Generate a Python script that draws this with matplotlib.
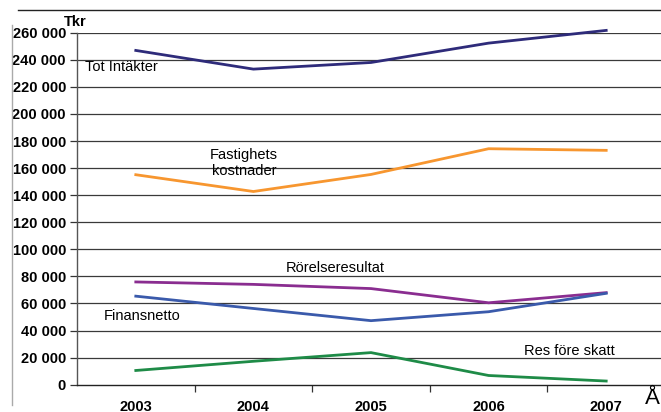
import matplotlib
matplotlib.use("Agg")
import matplotlib.pyplot as plt
from matplotlib.lines import Line2D

plt.rcParams['font.family'] = ['Liberation Sans', 'DejaVu Sans']

years = ["2003", "2004", "2005", "2006", "2007"]
tot_intakter = [246900, 233100, 238000, 252300, 261700]
fastighets_kostnader = [155100, 142700, 155300, 174300, 173100]
rorelseresultat = [75900, 74100, 71000, 60500, 68000]
finansnetto = [65400, 56300, 47300, 53900, 67500]
res_fore_skatt = [10500, 17300, 23700, 6800, 2700]

series = [
    (tot_intakter, "#2E2B7A"),
    (fastighets_kostnader, "#F7962F"),
    (rorelseresultat, "#8A2D90"),
    (finansnetto, "#3A5AAB"),
    (res_fore_skatt, "#1E8B47"),
]
yticks = list(range(0, 260001, 20000))

W, H = 661, 412
fig = plt.figure(figsize=(W / 100, H / 100), dpi=100)
ax = fig.add_axes([77 / W, 27.3 / H, 588 / W, 352 / H])

x = list(range(len(years)))
for vals, col in series:
    ax.plot(x, vals, color=col, lw=2.0, clip_on=False, zorder=3,
            solid_joinstyle='miter')

ax.set_xlim(-0.5, 4.5)
ax.set_ylim(0, 260000)
ax.set_yticks(yticks)
ax.set_yticklabels([f"{v:,}".replace(",", " ") for v in yticks],
                   fontsize=10.5, fontweight='bold')
for v in yticks[1:]:
    ax.axhline(v, color='#3a3a3a', lw=0.9, zorder=1)

ax.set_xticks([0.5, 1.5, 2.5, 3.5])
ax.set_xticklabels([])
ax.tick_params(axis='x', direction='out', length=5, width=0.9, color='#333333')
ax.tick_params(axis='y', direction='out', length=5, width=0.9, color='#333333', pad=3)
for s in ['top', 'right']:
    ax.spines[s].set_visible(False)
ax.spines['left'].set_color('#555555')
ax.spines['left'].set_linewidth(1.0)
ax.spines['bottom'].set_color('#222222')
ax.spines['bottom'].set_linewidth(1.0)

for i, yr in enumerate(years):
    ax.text(i, -0.062, yr, transform=ax.get_xaxis_transform(), ha='center',
            va='center', fontsize=10.5, fontweight='bold')

# labels
fs = 10.5
ax.text(-0.43, 235000, "Tot Intäkter", fontsize=fs, ha='left', va='center')
ax.text(0.92, 164000, "Fastighets\nkostnader", fontsize=fs, ha='center',
        va='center', linespacing=1.2)
ax.text(1.7, 86000, "Rörelseresultat", fontsize=fs, ha='center', va='center')
ax.text(-0.27, 51000, "Finansnetto", fontsize=fs, ha='left', va='center')
ax.text(3.3, 25000, "Res före skatt", fontsize=fs, ha='left', va='center')

fig.text(64 / W, 1 - 22 / H, "Tkr", fontsize=10.5, fontweight='bold',
         ha='left', va='center')
fig.text(652 / W, 1 - 398 / H, "Å", fontsize=16, ha='center', va='center')

# frame lines
fig.add_artist(Line2D([18 / W, 1.0], [1 - 10 / H, 1 - 10 / H],
                      transform=fig.transFigure, color='#222222', lw=1.0))
fig.add_artist(Line2D([12 / W, 12 / W], [1 - 25 / H, 1 - 405 / H],
                      transform=fig.transFigure, color='#aaaaaa', lw=1.0))

fig.savefig("out.png", dpi=100)
